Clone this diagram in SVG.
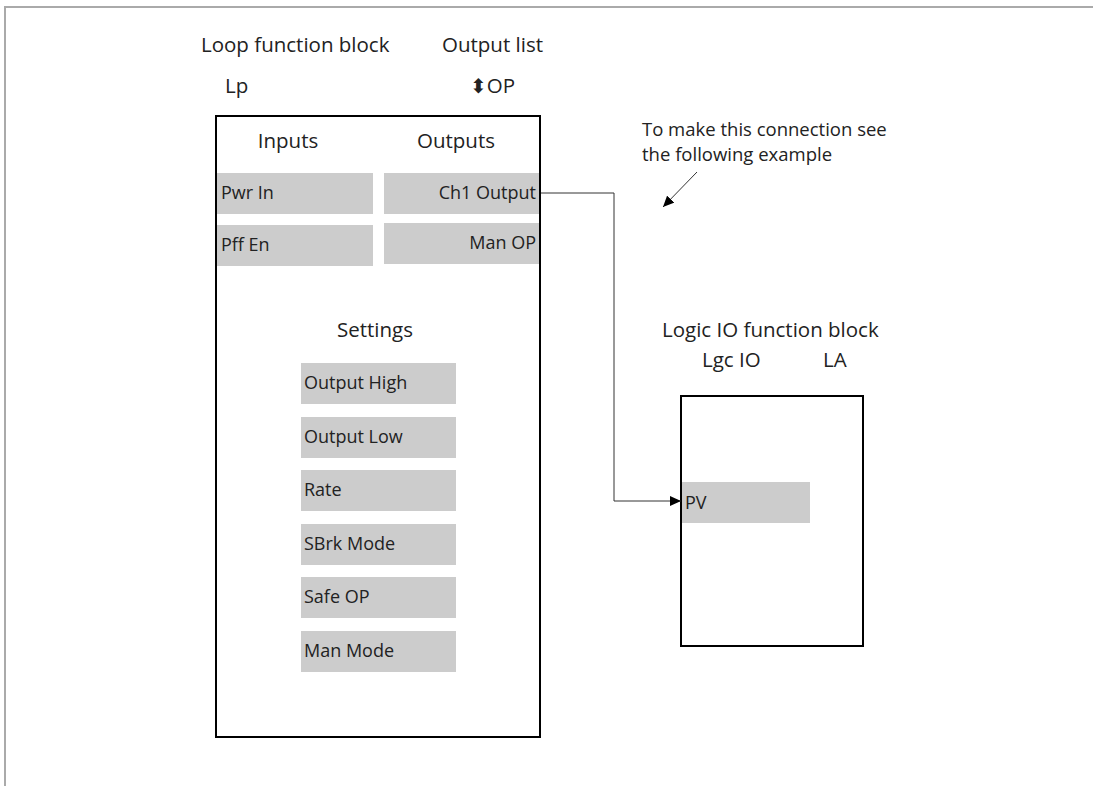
<svg xmlns="http://www.w3.org/2000/svg" width="1093" height="786" viewBox="0 0 1093 786">
<defs>
<style>
.t{font-family:"Open Sans","Liberation Sans",sans-serif;fill:#222;}
.h{font-size:20.5px;}
.s{font-size:18px;}
.n{font-size:18.5px;}
.blk{fill:#fff;stroke:#000;stroke-width:2;}
.fld{fill:#cccccc;}
.con{fill:none;stroke:#333;stroke-width:1;}
</style>
<marker id="ah" markerWidth="11" markerHeight="10" refX="11" refY="5" orient="auto" markerUnits="userSpaceOnUse">
<path d="M0,0 L11,5 L0,10 Z" fill="#000"/>
</marker>
</defs>
<rect width="1093" height="786" fill="#fff"/>
<g id="frame">
<path d="M5,786 L5,7 L1093,7" fill="none" stroke="#aaaaaa" stroke-width="2"/>
</g>
<g id="loop-block">
<text class="t h" x="201" y="52">Loop function block</text>
<text class="t h" x="225" y="93">Lp</text>
<text class="t h" x="442" y="52">Output list</text>
<text class="t h" x="470" y="93"><tspan font-family="'DejaVu Sans',sans-serif" font-size="20">⬍</tspan>OP</text>
<rect class="blk" x="216" y="116" width="324" height="621"/>
<text class="t h" x="288" y="148" text-anchor="middle">Inputs</text>
<text class="t h" x="456" y="148" text-anchor="middle">Outputs</text>
<rect class="fld" x="217" y="173" width="156" height="41"/>
<text class="t s" x="221" y="199">Pwr In</text>
<rect class="fld" x="217" y="225" width="156" height="41"/>
<text class="t s" x="221" y="251">Pff En</text>
<rect class="fld" x="384" y="173" width="155" height="41"/>
<text class="t s" x="536" y="199" text-anchor="end">Ch1 Output</text>
<rect class="fld" x="384" y="223" width="155" height="41"/>
<text class="t s" x="536" y="249" text-anchor="end">Man OP</text>
<text class="t h" x="375" y="337" text-anchor="middle">Settings</text>
<rect class="fld" x="301" y="363" width="155" height="41"/>
<text class="t s" x="304" y="389">Output High</text>
<rect class="fld" x="301" y="417" width="155" height="41"/>
<text class="t s" x="304" y="443">Output Low</text>
<rect class="fld" x="301" y="470" width="155" height="41"/>
<text class="t s" x="304" y="496">Rate</text>
<rect class="fld" x="301" y="524" width="155" height="41"/>
<text class="t s" x="304" y="550">SBrk Mode</text>
<rect class="fld" x="301" y="577" width="155" height="41"/>
<text class="t s" x="304" y="603">Safe OP</text>
<rect class="fld" x="301" y="631" width="155" height="41"/>
<text class="t s" x="304" y="657">Man Mode</text>
</g>
<g id="logic-block">
<text class="t h" x="662" y="337">Logic IO function block</text>
<text class="t h" x="702" y="367">Lgc IO</text>
<text class="t h" x="823" y="367">LA</text>
<rect class="blk" x="681" y="396" width="182" height="250"/>
<rect class="fld" x="682" y="482" width="128" height="41"/>
<text class="t s" x="685" y="509">PV</text>
</g>
<g id="note">
<text class="t n" x="642" y="136">To make this connection see</text>
<text class="t n" x="642" y="161">the following example</text>
</g>
<g id="connectors">
<path class="con" d="M541,193 H614 V501 H681" marker-end="url(#ah)"/>
<path class="con" d="M697,172 L663,207" stroke="#000" marker-end="url(#ah)"/>
</g>
</svg>
